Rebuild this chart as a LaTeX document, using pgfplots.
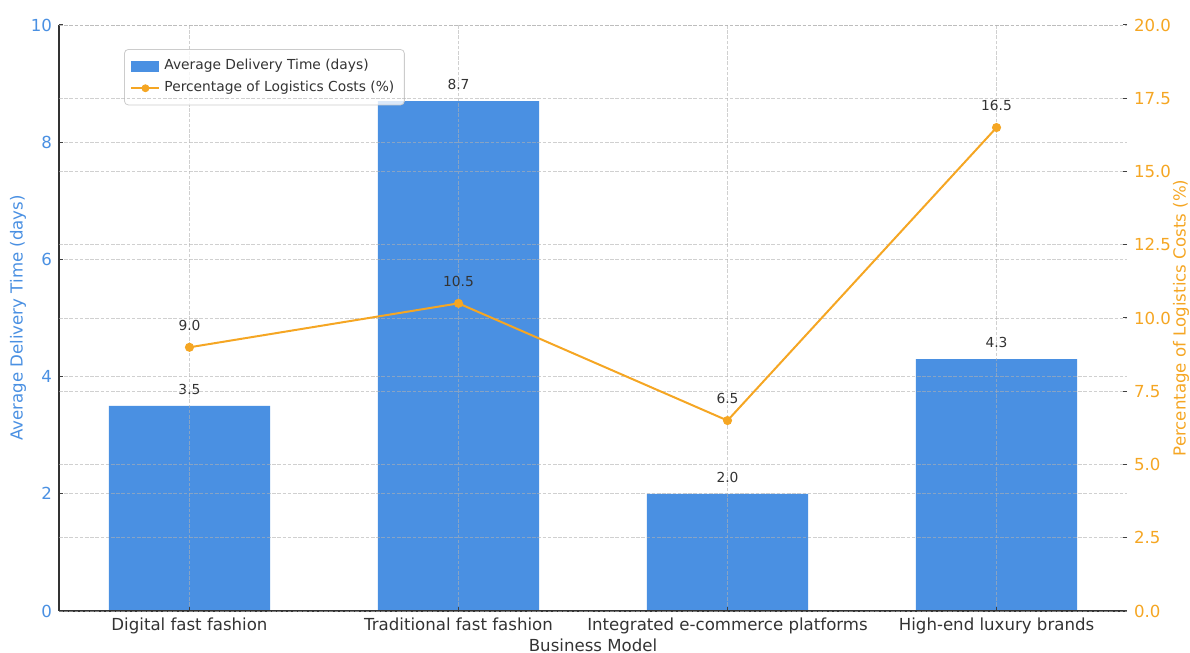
\documentclass[border=0pt]{standalone}
\usepackage{fontspec}
\setmainfont{DejaVu Sans}
\usepackage{pgfplots}
\pgfplotsset{compat=1.18}
\definecolor{barblue}{HTML}{4A90E2}
\definecolor{lineorange}{HTML}{F5A623}
\definecolor{txt}{HTML}{333333}
\definecolor{gridc}{HTML}{B0B0B0}
\begin{document}
\begin{tikzpicture}
\useasboundingbox (-29.5pt,-21pt) rectangle (565.5pt,305.5pt);
\pgfplotsset{
  common/.style={
    at={(0,0)}, anchor=south west,
    scale only axis, width=534pt, height=293pt,
    xmin=-0.485, xmax=3.485,
    /pgf/number format/assume math mode=true,
    tick align=inside,
    major tick length=2.2pt,
    tick style={black!75, line width=0.5pt},
    grid style={gridc, opacity=0.6, line width=0.45pt, dash pattern=on 1.8pt off 0.8pt},
    ticklabel style={font=\fontsize{8.3}{10}\selectfont},
    label style={font=\fontsize{8.3}{10}\selectfont},
  }
}
\begin{axis}[common,
  axis x line*=bottom, axis y line*=left,
  axis line style={black!80, line width=0.6pt},
  axis on top,
  xmajorgrids, ymajorgrids,
  ymin=0, ymax=10, ytick={0,2,4,6,8,10},
  yticklabel style={color=barblue},
  xtick={0,1,2,3},
  xticklabels={Digital fast fashion, Traditional fast fashion, Integrated e-commerce platforms, High-end luxury brands},
  xticklabel style={color=txt},
  xlabel={Business Model},
  xlabel style={at={(axis description cs:0.5,-0.058)}, anchor=center, color=txt},
  ylabel={Average Delivery Time (days)},
  ylabel style={at={(axis description cs:-0.0384,0.5)}, anchor=center, color=barblue},
  legend style={at={(axis description cs:0.0609,0.959)}, anchor=north west,
    font=\fontsize{6.9}{8.5}\selectfont, text=txt,
    draw=black!20, rounded corners=2pt, fill=white, fill opacity=0.8, text opacity=1,
    row sep=0.3pt, inner xsep=3pt, inner ysep=3pt},
  legend cell align=left,
]
\addplot[ybar, bar width=0.6, fill=barblue, draw=none,
  nodes near coords,
  every node near coord/.style={font=\fontsize{6.9}{8}\selectfont, color=txt, yshift=2.2pt},
  nodes near coords={\pgfmathprintnumber[fixed,precision=1,zerofill]{\pgfplotspointmeta}},
  legend image code/.code={\fill[barblue, sharp corners, fill opacity=1] (0pt,-2.7pt) rectangle (14pt,2.7pt);}
] coordinates {(0,3.5) (1,8.7) (2,2.0) (3,4.3)};
\addlegendentry{Average Delivery Time (days)}
\addlegendimage{legend image code/.code={\draw[lineorange, line width=1pt, sharp corners, draw opacity=1] (0pt,0pt) -- (14pt,0pt); \fill[lineorange, fill opacity=1] (7pt,0pt) circle (1.75pt);}}
\addlegendentry{Percentage of Logistics Costs (\%)}
\end{axis}
\begin{axis}[common,
  hide x axis,
  axis line style={draw=none},
  ymin=0, ymax=20, ytick={0,2.5,5,7.5,10,12.5,15,17.5,20},
  ytick pos=right,
  yticklabel pos=right,
  yticklabel style={color=lineorange, /pgf/number format/.cd, fixed, precision=1, zerofill},
  ymajorgrids,
  ylabel={Percentage of Logistics Costs (\%)},
  ylabel style={at={(axis description cs:1.0506,0.5)}, anchor=center, rotate=0, color=lineorange},
]
\addplot[lineorange, line width=1pt, mark=*, mark size=1.75pt,
  mark options={fill=lineorange, draw=lineorange},
  nodes near coords,
  every node near coord/.style={font=\fontsize{6.9}{8}\selectfont, color=txt, yshift=4.7pt},
  nodes near coords={\pgfmathprintnumber[fixed,precision=1,zerofill]{\pgfplotspointmeta}},
] coordinates {(0,9.0) (1,10.5) (2,6.5) (3,16.5)};
\end{axis}
\end{tikzpicture}
\end{document}
